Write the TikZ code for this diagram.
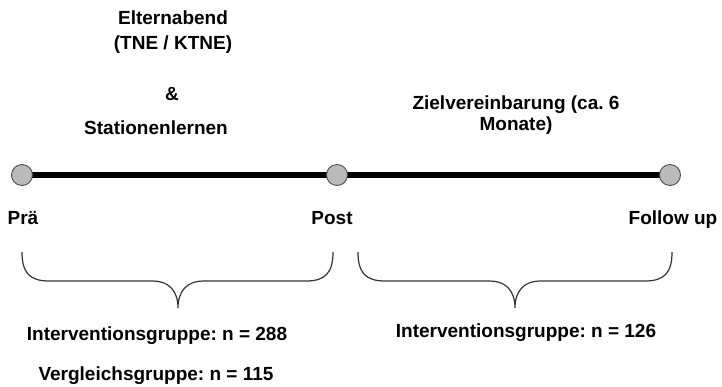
\documentclass[tikz,border=0pt]{standalone}
\usepackage{fontspec}
\setmainfont{Liberation Sans}
\frenchspacing
\usetikzlibrary{positioning,backgrounds}
\tikzstyle{punkt}=[circle,draw=black!70,fill=black!27,line width=0.9pt,inner sep=0pt,minimum size=21pt]
\tikzstyle{zeitachse}=[line width=5.5pt,black]
\tikzstyle{klammer}=[line width=1.2pt,black!80]
\tikzstyle{beschr}=[font=\fontsize{19}{25}\selectfont\bfseries,inner sep=0pt,anchor=base,align=center]

% geschweifte Klammer: links, rechts, Spitze
\newcommand{\geschweift}[3]{%
  \draw[klammer] (#1,252) .. controls (#1,272) and (#1+7,281) .. (#1+27,281)
    -- (#3-25,281) .. controls (#3-10,281) and (#3,290) .. (#3,308)
    .. controls (#3,290) and (#3+10,281) .. (#3+25,281)
    -- (#2-27,281) .. controls (#2-7,281) and (#2,272) .. (#2,252);}

\begin{document}
\begin{tikzpicture}[x=1pt,y=-1pt]
    \useasboundingbox (0,0) rectangle (722,386);

    % Zeitpunkte
    \node[punkt] (pre) at (22,175) {};
    \node[punkt] (post) at (337,175) {};
    \node[punkt] (fu) at (670,175) {};
    \begin{scope}[on background layer]
      \draw[zeitachse] (pre.center) -- (post.center) -- (fu.center);
    \end{scope}

    \node[beschr] (prae) at (23,224) {Prä};
    \node[beschr] (postl) at (332,224) {Post};
    \node[beschr] (ful) at (673,224) {Follow up};

    % Massnahmen
    \node[beschr] (eltern) at (173,49) {Elternabend\\(TNE / KTNE)};
    \node[beschr] (und) at (172,100) {\&};
    \node[beschr] (station) at (156,134) {Stationenlernen};
    \node[beschr,font=\fontsize{19}{21}\selectfont\bfseries] (ziel) at (516,130) {Zielvereinbarung (ca. 6\\Monate)};

    % Stichproben
    \geschweift{22}{333}{178}
    \geschweift{358}{672}{515}
    \node[beschr] (ig1) at (157,340) {Interventionsgruppe: n = 288};
    \node[beschr] (vg1) at (156,380) {Vergleichsgruppe: n = 115};
    \node[beschr] (ig2) at (526,337) {Interventionsgruppe: n = 126};

  \end{tikzpicture}
\end{document}
